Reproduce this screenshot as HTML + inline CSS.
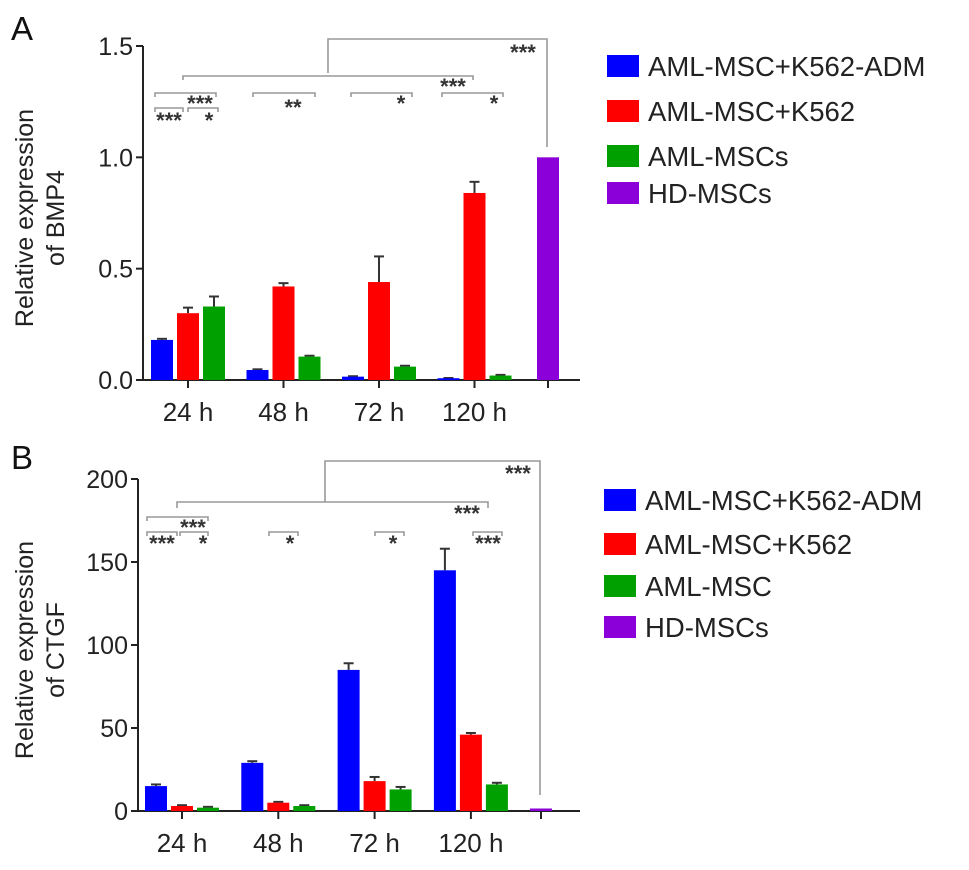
<!DOCTYPE html>
<html><head><meta charset="utf-8">
<style>
html,body{margin:0;padding:0;background:#fff;}
svg{display:block;font-family:"Liberation Sans",Arial,sans-serif;}
</style></head>
<body>
<svg id="chart" width="969" height="870" viewBox="0 0 969 870" xmlns="http://www.w3.org/2000/svg">
<g id="layer"></g>
</svg>
<script>
// ---- Data ----
const categories = ["24 h", "48 h", "72 h", "120 h"];
const seriesColors = ["#0000ff", "#ff0000", "#00a000"];
const hdColor = "#8b00d8";
// Panel A (BMP4)
const aBlue = [0.18, 0.045, 0.015, 0.008];
const aRed = [0.30, 0.42, 0.44, 0.84];
const aGreen = [0.33, 0.105, 0.06, 0.02];
const aBlueErr = [0.005, 0.003, 0.002, 0.001];
const aRedErr = [0.025, 0.015, 0.115, 0.05];
const aGreenErr = [0.045, 0.004, 0.004, 0.003];
const aHD = 1.0;
const aTicks = [0, 0.5, 1.0, 1.5];
const aTickLabels = ["0.0", "0.5", "1.0", "1.5"];
const aLegend = ["AML-MSC+K562-ADM", "AML-MSC+K562", "AML-MSCs", "HD-MSCs"];
// Panel B (CTGF)
const bBlue = [15, 29, 85, 145];
const bRed = [3, 5, 18, 46];
const bGreen = [2, 3, 13, 16];
const bBlueErr = [1, 1, 4, 13];
const bRedErr = [0.5, 0.5, 2.5, 1];
const bGreenErr = [0.5, 0.5, 1.5, 1];
const bHD = 1.5;
const bTicks = [0, 50, 100, 150, 200];
const bTickLabels = ["0", "50", "100", "150", "200"];
const bLegend = ["AML-MSC+K562-ADM", "AML-MSC+K562", "AML-MSC", "HD-MSCs"];

const NS = "http://www.w3.org/2000/svg";
const layer = document.getElementById('layer');
function mk(tag, attrs, parent) {
  const e = document.createElementNS(NS, tag);
  for (const k in attrs) e.setAttribute(k, attrs[k]);
  (parent || layer).appendChild(e);
  return e;
}

function panel(cfg) {
  const g = mk('g', {});
  
  
  const y = v => cfg.y0 - (v - cfg.ymin) / (cfg.ymax - cfg.ymin) * (cfg.y0 - cfg.yTop);
  const groupX = i => cfg.gx0 + i * cfg.gstep;
  const ya = mk('line', {x1: cfg.ax, y1: cfg.yTop, x2: cfg.ax, y2: cfg.y0, stroke: '#222', 'stroke-width': 2}, g);
  
  
  const xa = mk('line', {x1: cfg.ax - 6, y1: cfg.y0, x2: cfg.axEnd, y2: cfg.y0, stroke: '#222', 'stroke-width': 2}, g);
  
  
  cfg.ticks.forEach((t, i) => {
    mk('line', {x1: cfg.ax - 7, y1: y(t), x2: cfg.ax, y2: y(t), stroke: '#222', 'stroke-width': 2}, g);
    const tl = mk('text', {x: cfg.ax - 10, y: y(t) + 9, 'text-anchor': 'end', 'font-size': 25, fill: '#222'}, g);
    tl.textContent = cfg.tickLabels[i];
    
    
  });
  const sets = [cfg.blue, cfg.red, cfg.green];
  const errs = [cfg.blueErr, cfg.redErr, cfg.greenErr];
  categories.forEach((c, i) => {
    const cx = groupX(i);
    mk('line', {x1: cx, y1: cfg.y0, x2: cx, y2: cfg.y0 + 8, stroke: '#222', 'stroke-width': 2}, g);
    const xl = mk('text', {x: cx, y: cfg.y0 + 41, 'text-anchor': 'middle', 'font-size': 26, fill: '#222'}, g);
    xl.textContent = c;
    
    
    sets.forEach((s, k) => {
      const bx = cx + (k - 1) * 26 - 11;
      const top = y(s[i]) , h = cfg.y0 - top;
      const e = errs[k][i];
      if (e > 0) {
        const et = y(s[i] + e);
        mk('line', {x1: bx + 11, y1: top, x2: bx + 11, y2: et, stroke: '#333', 'stroke-width': 2}, g);
        mk('line', {x1: bx + 6, y1: et, x2: bx + 16, y2: et, stroke: '#333', 'stroke-width': 2}, g);
      }
      const r = mk('rect', {x: bx, y: top, width: 22, height: Math.max(h, 1), fill: seriesColors[k]}, g);
      
      
    });
  });
  mk('line', {x1: cfg.hdx, y1: cfg.y0, x2: cfg.hdx, y2: cfg.y0 + 8, stroke: '#222', 'stroke-width': 2}, g);
  const hb = mk('rect', {x: cfg.hdx - 11, y: y(cfg.hd), width: 22, height: Math.max(cfg.y0 - y(cfg.hd), 2), fill: hdColor}, g);
  
  
  const tt = mk('text', {transform: `translate(${cfg.titleX},${cfg.titleY}) rotate(-90)`, 'text-anchor': 'middle', 'font-size': 25, fill: '#222'}, g);
  
  
  const t1 = mk('tspan', {x: 0, y: 0}, tt); t1.textContent = 'Relative expression';
  const t2 = mk('tspan', {x: 0, y: 31}, tt); t2.textContent = cfg.title2;
  const L = mk('text', {x: 11, y: cfg.letterY, 'font-size': 33, fill: '#111'}, g);
  L.textContent = cfg.letter;
  
  
  cfg.legend.forEach((lab, k) => {
    const ly = cfg.legY[k];
    const sw = mk('rect', {x: cfg.legX, y: ly - 11, width: 32, height: 22, fill: k < 3 ? seriesColors[k] : hdColor}, g);
    
    
    const lt = mk('text', {x: cfg.legX + 41, y: ly + 10, 'font-size': 27.5, fill: '#222'}, g);
    lt.textContent = lab;
    
    
  });
  const gray = '#999';
  cfg.lines.forEach(p => mk('polyline', {points: p, fill: 'none', stroke: gray, 'stroke-width': 1.6}, g));
  cfg.stars.forEach(s => {
    const st = mk('text', {x: s[0], y: s[1] + 11, 'text-anchor': 'middle', 'font-size': 22, 'font-weight': 'bold', fill: '#333'}, g);
    st.textContent = s[2];
    
    
  });
}

panel({name: 'panel-a-bmp4', ax: 143, axEnd: 580, y0: 380, yTop: 46, ymin: 0, ymax: 1.5,
  gx0: 188, gstep: 95.5, hdx: 548, ticks: aTicks, tickLabels: aTickLabels,
  blue: aBlue, red: aRed, green: aGreen, blueErr: aBlueErr, redErr: aRedErr, greenErr: aGreenErr, hd: aHD,
  titleX: 33, titleY: 218, title2: 'of BMP4', letter: 'A', letterY: 40,
  legX: 607, legY: [66, 111, 156, 193], legend: aLegend,
  lines: ['328,73 328,39 547,39 547,147', '183,80 183,76 473,76 473,80',
    '155,97 155,93 216,93 216,97', '253,97 253,93 315,93 315,97', '351,97 351,93 412,93 412,97', '442,97 442,93 503,93 503,97',
    '155,112 155,108 183,108 183,112', '188,112 188,108 218,108 218,112'],
  stars: [[523, 49, '***'], [453, 83, '***'], [200, 100, '***'], [293, 104, '**'], [401, 100, '*'], [494, 100, '*'], [169, 117, '***'], [209, 117, '*']]
});
panel({name: 'panel-b-ctgf', ax: 138, axEnd: 580, y0: 811, yTop: 479, ymin: 0, ymax: 200,
  gx0: 182, gstep: 96.3, hdx: 541, ticks: bTicks, tickLabels: bTickLabels,
  blue: bBlue, red: bRed, green: bGreen, blueErr: bBlueErr, redErr: bRedErr, greenErr: bGreenErr, hd: bHD,
  titleX: 33, titleY: 650, title2: 'of CTGF', letter: 'B', letterY: 469,
  legX: 604, legY: [500, 544, 586, 627], legend: bLegend,
  lines: ['325,502 325,461 540,461 540,795', '177,508 177,502 488,502 488,508',
    '147,521 147,517 208,517 208,521',
    '147,536 147,532 177,532 177,536', '180,536 180,532 208,532 208,536', '269,536 269,532 298,532 298,536',
    '375,536 375,532 404,532 404,536', '473,536 473,532 502,532 502,536'],
  stars: [[518, 470, '***'], [467, 510, '***'], [193, 524, '***'], [162, 540, '***'], [203, 540, '*'], [290, 540, '*'], [393, 540, '*'], [488, 540, '***']]
});
</script>
</body></html>
